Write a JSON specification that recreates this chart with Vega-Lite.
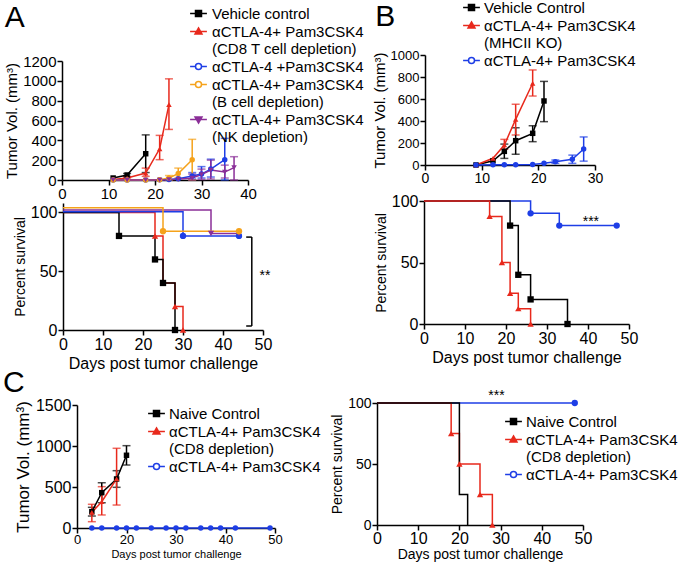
{
  "$schema": "https://vega.github.io/schema/vega-lite/v6.json",
  "width": 680,
  "height": 562,
  "autosize": "none",
  "padding": 0,
  "background": "white",
  "config": {
    "font": "Liberation Sans",
    "view": {"stroke": null},
    "axis": {"grid": false, "domainColor": "black", "domainWidth": 1.5, "tickColor": "black", "tickWidth": 1.5, "tickSize": 5, "labelColor": "black", "titleColor": "black", "titleFontWeight": "normal", "labelPadding": 1, "titlePadding": 3, "labelFlush": false, "labelOverlap": false},
    "legend": {"labelColor": "black", "labelFont": "Liberation Sans", "symbolOpacity": 1}
  },
  "datasets": {
    "aTop": [
      {"group": "Vehicle control", "day": 11, "vol": 20},
      {"group": "Vehicle control", "day": 14, "vol": 50, "lo": 35, "hi": 65},
      {"group": "Vehicle control", "day": 18, "vol": 265, "lo": 75, "hi": 455},
      {"group": "αCTLA-4+ Pam3CSK4 (CD8 T cell depletion)", "day": 11, "vol": 5},
      {"group": "αCTLA-4+ Pam3CSK4 (CD8 T cell depletion)", "day": 14, "vol": 20, "lo": 10, "hi": 30},
      {"group": "αCTLA-4+ Pam3CSK4 (CD8 T cell depletion)", "day": 18, "vol": 70, "lo": 37, "hi": 120},
      {"group": "αCTLA-4+ Pam3CSK4 (CD8 T cell depletion)", "day": 21, "vol": 315, "lo": 205, "hi": 450},
      {"group": "αCTLA-4+ Pam3CSK4 (CD8 T cell depletion)", "day": 23, "vol": 760, "lo": 510, "hi": 1020},
      {"group": "αCTLA-4 +Pam3CSK4", "day": 11, "vol": 0},
      {"group": "αCTLA-4 +Pam3CSK4", "day": 14, "vol": 0},
      {"group": "αCTLA-4 +Pam3CSK4", "day": 18, "vol": 0},
      {"group": "αCTLA-4 +Pam3CSK4", "day": 21, "vol": 2},
      {"group": "αCTLA-4 +Pam3CSK4", "day": 23, "vol": 5},
      {"group": "αCTLA-4 +Pam3CSK4", "day": 25, "vol": 12},
      {"group": "αCTLA-4 +Pam3CSK4", "day": 28, "vol": 40, "lo": 10, "hi": 75},
      {"group": "αCTLA-4 +Pam3CSK4", "day": 30, "vol": 60, "lo": 20, "hi": 135},
      {"group": "αCTLA-4 +Pam3CSK4", "day": 32, "vol": 110, "lo": 30, "hi": 210},
      {"group": "αCTLA-4 +Pam3CSK4", "day": 35, "vol": 205, "lo": 0, "hi": 420},
      {"group": "αCTLA-4+ Pam3CSK4 (B cell depletion)", "day": 11, "vol": 0},
      {"group": "αCTLA-4+ Pam3CSK4 (B cell depletion)", "day": 14, "vol": 0},
      {"group": "αCTLA-4+ Pam3CSK4 (B cell depletion)", "day": 18, "vol": 0},
      {"group": "αCTLA-4+ Pam3CSK4 (B cell depletion)", "day": 21, "vol": 3},
      {"group": "αCTLA-4+ Pam3CSK4 (B cell depletion)", "day": 23, "vol": 20, "lo": 0, "hi": 45},
      {"group": "αCTLA-4+ Pam3CSK4 (B cell depletion)", "day": 25, "vol": 65, "lo": 20, "hi": 120},
      {"group": "αCTLA-4+ Pam3CSK4 (B cell depletion)", "day": 28, "vol": 205, "lo": 0, "hi": 410},
      {"group": "αCTLA-4+ Pam3CSK4 (NK depletion)", "day": 11, "vol": 0},
      {"group": "αCTLA-4+ Pam3CSK4 (NK depletion)", "day": 14, "vol": 0},
      {"group": "αCTLA-4+ Pam3CSK4 (NK depletion)", "day": 18, "vol": 0},
      {"group": "αCTLA-4+ Pam3CSK4 (NK depletion)", "day": 21, "vol": 0},
      {"group": "αCTLA-4+ Pam3CSK4 (NK depletion)", "day": 23, "vol": 3},
      {"group": "αCTLA-4+ Pam3CSK4 (NK depletion)", "day": 25, "vol": 8},
      {"group": "αCTLA-4+ Pam3CSK4 (NK depletion)", "day": 28, "vol": 20, "lo": 0, "hi": 60},
      {"group": "αCTLA-4+ Pam3CSK4 (NK depletion)", "day": 30, "vol": 55, "lo": 5, "hi": 110},
      {"group": "αCTLA-4+ Pam3CSK4 (NK depletion)", "day": 32, "vol": 100, "lo": 10, "hi": 200},
      {"group": "αCTLA-4+ Pam3CSK4 (NK depletion)", "day": 35, "vol": 80, "lo": 20, "hi": 150},
      {"group": "αCTLA-4+ Pam3CSK4 (NK depletion)", "day": 37, "vol": 125, "lo": 0, "hi": 235}
    ],
    "aSurv": [
      {"group": "αCTLA-4+ Pam3CSK4 (CD8 T cell depletion)", "day": 0, "pct": 100, "marker": false},
      {"group": "αCTLA-4+ Pam3CSK4 (CD8 T cell depletion)", "day": 23, "pct": 80, "marker": true},
      {"group": "αCTLA-4+ Pam3CSK4 (CD8 T cell depletion)", "day": 25, "pct": 40, "marker": false},
      {"group": "αCTLA-4+ Pam3CSK4 (CD8 T cell depletion)", "day": 28, "pct": 20, "marker": true},
      {"group": "αCTLA-4+ Pam3CSK4 (CD8 T cell depletion)", "day": 30, "pct": 0, "marker": true},
      {"group": "Vehicle control", "day": 0, "pct": 100, "marker": false},
      {"group": "Vehicle control", "day": 14, "pct": 80, "marker": true},
      {"group": "Vehicle control", "day": 23, "pct": 60, "marker": true},
      {"group": "Vehicle control", "day": 25, "pct": 40, "marker": true},
      {"group": "Vehicle control", "day": 28, "pct": 0, "marker": true},
      {"group": "αCTLA-4 +Pam3CSK4", "day": 0, "pct": 100.5, "marker": false},
      {"group": "αCTLA-4 +Pam3CSK4", "day": 30, "pct": 80, "marker": true},
      {"group": "αCTLA-4 +Pam3CSK4", "day": 44, "pct": 80, "marker": true},
      {"group": "αCTLA-4+ Pam3CSK4 (NK depletion)", "day": 0, "pct": 102, "marker": false},
      {"group": "αCTLA-4+ Pam3CSK4 (NK depletion)", "day": 37, "pct": 82, "marker": true},
      {"group": "αCTLA-4+ Pam3CSK4 (NK depletion)", "day": 44, "pct": 82, "marker": true},
      {"group": "αCTLA-4+ Pam3CSK4 (B cell depletion)", "day": 0, "pct": 104, "marker": false},
      {"group": "αCTLA-4+ Pam3CSK4 (B cell depletion)", "day": 25, "pct": 84, "marker": true},
      {"group": "αCTLA-4+ Pam3CSK4 (B cell depletion)", "day": 44, "pct": 84, "marker": true}
    ],
    "bTop": [
      {"group": "Vehicle Control", "day": 9, "vol": 0},
      {"group": "Vehicle Control", "day": 12, "vol": 39},
      {"group": "Vehicle Control", "day": 14, "vol": 124, "lo": 60, "hi": 190},
      {"group": "Vehicle Control", "day": 16, "vol": 221, "lo": 97, "hi": 339},
      {"group": "Vehicle Control", "day": 19, "vol": 288, "lo": 212, "hi": 357},
      {"group": "Vehicle Control", "day": 21, "vol": 582, "lo": 394, "hi": 760},
      {"group": "αCTLA-4+ Pam3CSK4 (MHCII KO)", "day": 9, "vol": 0},
      {"group": "αCTLA-4+ Pam3CSK4 (MHCII KO)", "day": 12, "vol": 61},
      {"group": "αCTLA-4+ Pam3CSK4 (MHCII KO)", "day": 14, "vol": 182, "lo": 143, "hi": 233},
      {"group": "αCTLA-4+ Pam3CSK4 (MHCII KO)", "day": 16, "vol": 415, "lo": 272, "hi": 552},
      {"group": "αCTLA-4+ Pam3CSK4 (MHCII KO)", "day": 19, "vol": 743, "lo": 627, "hi": 864},
      {"group": "αCTLA-4+ Pam3CSK4", "day": 9, "vol": 0},
      {"group": "αCTLA-4+ Pam3CSK4", "day": 12, "vol": 2},
      {"group": "αCTLA-4+ Pam3CSK4", "day": 14, "vol": 2},
      {"group": "αCTLA-4+ Pam3CSK4", "day": 16, "vol": 3},
      {"group": "αCTLA-4+ Pam3CSK4", "day": 19, "vol": 5},
      {"group": "αCTLA-4+ Pam3CSK4", "day": 21, "vol": 15},
      {"group": "αCTLA-4+ Pam3CSK4", "day": 23, "vol": 30, "lo": 15, "hi": 45},
      {"group": "αCTLA-4+ Pam3CSK4", "day": 26, "vol": 52, "lo": 15, "hi": 90},
      {"group": "αCTLA-4+ Pam3CSK4", "day": 28, "vol": 145, "lo": 35, "hi": 255}
    ],
    "bSurv": [
      {"group": "αCTLA-4+ Pam3CSK4", "day": 0, "pct": 100, "marker": false},
      {"group": "αCTLA-4+ Pam3CSK4", "day": 26, "pct": 90, "marker": true},
      {"group": "αCTLA-4+ Pam3CSK4", "day": 33, "pct": 80, "marker": true},
      {"group": "αCTLA-4+ Pam3CSK4", "day": 47, "pct": 80, "marker": true},
      {"group": "Vehicle Control", "day": 0, "pct": 100, "marker": false},
      {"group": "Vehicle Control", "day": 21, "pct": 80, "marker": true},
      {"group": "Vehicle Control", "day": 23, "pct": 40, "marker": true},
      {"group": "Vehicle Control", "day": 26, "pct": 20, "marker": true},
      {"group": "Vehicle Control", "day": 35, "pct": 0, "marker": true},
      {"group": "αCTLA-4+ Pam3CSK4 (MHCII KO)", "day": 0, "pct": 100, "marker": false},
      {"group": "αCTLA-4+ Pam3CSK4 (MHCII KO)", "day": 16, "pct": 87.5, "marker": true},
      {"group": "αCTLA-4+ Pam3CSK4 (MHCII KO)", "day": 19, "pct": 50, "marker": true},
      {"group": "αCTLA-4+ Pam3CSK4 (MHCII KO)", "day": 21, "pct": 25, "marker": true},
      {"group": "αCTLA-4+ Pam3CSK4 (MHCII KO)", "day": 23, "pct": 12.5, "marker": true},
      {"group": "αCTLA-4+ Pam3CSK4 (MHCII KO)", "day": 26, "pct": 0, "marker": true}
    ],
    "cTop": [
      {"group": "Naive Control", "day": 13, "vol": 199, "lo": 146, "hi": 252},
      {"group": "Naive Control", "day": 15, "vol": 431, "lo": 308, "hi": 552},
      {"group": "Naive Control", "day": 18, "vol": 598, "lo": 496, "hi": 699},
      {"group": "Naive Control", "day": 20, "vol": 887, "lo": 768, "hi": 1004},
      {"group": "αCTLA-4+ Pam3CSK4 (CD8 depletion)", "day": 13, "vol": 190, "lo": 77, "hi": 289},
      {"group": "αCTLA-4+ Pam3CSK4 (CD8 depletion)", "day": 15, "vol": 321, "lo": 159, "hi": 504},
      {"group": "αCTLA-4+ Pam3CSK4 (CD8 depletion)", "day": 18, "vol": 598, "lo": 280, "hi": 972},
      {"group": "αCTLA-4+ Pam3CSK4", "day": 13, "vol": 0},
      {"group": "αCTLA-4+ Pam3CSK4", "day": 15, "vol": 0},
      {"group": "αCTLA-4+ Pam3CSK4", "day": 18, "vol": 0},
      {"group": "αCTLA-4+ Pam3CSK4", "day": 20, "vol": 0},
      {"group": "αCTLA-4+ Pam3CSK4", "day": 22, "vol": 0},
      {"group": "αCTLA-4+ Pam3CSK4", "day": 25, "vol": 0},
      {"group": "αCTLA-4+ Pam3CSK4", "day": 28, "vol": 0},
      {"group": "αCTLA-4+ Pam3CSK4", "day": 30, "vol": 0},
      {"group": "αCTLA-4+ Pam3CSK4", "day": 32, "vol": 0},
      {"group": "αCTLA-4+ Pam3CSK4", "day": 35, "vol": 0},
      {"group": "αCTLA-4+ Pam3CSK4", "day": 37, "vol": 0},
      {"group": "αCTLA-4+ Pam3CSK4", "day": 39, "vol": 0},
      {"group": "αCTLA-4+ Pam3CSK4", "day": 42, "vol": 0},
      {"group": "αCTLA-4+ Pam3CSK4", "day": 49, "vol": 0}
    ],
    "cSurv": [
      {"group": "αCTLA-4+ Pam3CSK4", "day": 0, "pct": 100, "marker": false},
      {"group": "αCTLA-4+ Pam3CSK4", "day": 48, "pct": 100, "marker": true},
      {"group": "αCTLA-4+ Pam3CSK4 (CD8 depletion)", "day": 0, "pct": 100, "marker": false},
      {"group": "αCTLA-4+ Pam3CSK4 (CD8 depletion)", "day": 18, "pct": 75, "marker": true},
      {"group": "αCTLA-4+ Pam3CSK4 (CD8 depletion)", "day": 20, "pct": 50, "marker": true},
      {"group": "αCTLA-4+ Pam3CSK4 (CD8 depletion)", "day": 25, "pct": 25, "marker": true},
      {"group": "αCTLA-4+ Pam3CSK4 (CD8 depletion)", "day": 28, "pct": 0, "marker": true},
      {"group": "Naive Control", "day": 0, "pct": 100, "marker": false},
      {"group": "Naive Control", "day": 20, "pct": 25, "marker": false},
      {"group": "Naive Control", "day": 22, "pct": 0, "marker": false}
    ]
  },
  "resolve": {
    "scale": {"x": "independent", "y": "independent", "color": "independent", "shape": "independent", "fill": "independent", "stroke": "independent"},
    "axis": {"x": "independent", "y": "independent"},
    "legend": {"color": "independent", "shape": "independent", "fill": "independent", "stroke": "independent"}
  },
  "layer": [
    {
      "layer": [
        {
          "data": {"name": "aTop"},
          "transform": [{"filter": "isValid(datum.hi)"}],
          "mark": {"type": "errorbar", "ticks": true, "size": 8, "thickness": 1.5},
          "encoding": {
            "x": {"field": "day", "type": "quantitative", "scale": {"domain": [0, 40], "range": [62, 248], "nice": false}, "axis": {"orient": "bottom", "offset": -382, "values": [0, 10, 20, 30, 40], "title": null, "labelFontSize": 15}},
            "y": {"field": "lo", "type": "quantitative", "scale": {"domain": [0, 1200], "range": [180, 61], "nice": false}, "title": "Tumor Vol. (mm³)", "axis": {"orient": "left", "offset": -62, "format": "d", "values": [0, 200, 400, 600, 800, 1000, 1200], "labelFontSize": 15, "titleFontSize": 15}},
            "y2": {"field": "hi"},
            "color": {"field": "group", "type": "nominal", "scale": {"domain": ["Vehicle control", "αCTLA-4+ Pam3CSK4 (CD8 T cell depletion)", "αCTLA-4 +Pam3CSK4", "αCTLA-4+ Pam3CSK4 (B cell depletion)", "αCTLA-4+ Pam3CSK4 (NK depletion)"], "range": ["#000000", "#e8291c", "#1e3ee6", "#f5a21b", "#8b2f98"]}, "legend": null}
          }
        },
        {
          "data": {"name": "aTop"},
          "mark": {"type": "line", "strokeWidth": 1.5},
          "encoding": {
            "x": {"field": "day", "type": "quantitative", "scale": {"domain": [0, 40], "range": [62, 248], "nice": false}, "axis": {"orient": "bottom", "offset": -382, "values": [0, 10, 20, 30, 40], "title": null, "labelFontSize": 15}},
            "y": {"field": "vol", "type": "quantitative", "scale": {"domain": [0, 1200], "range": [180, 61], "nice": false}, "title": "Tumor Vol. (mm³)", "axis": {"orient": "left", "offset": -62, "format": "d", "values": [0, 200, 400, 600, 800, 1000, 1200], "labelFontSize": 15, "titleFontSize": 15}},
            "color": {"field": "group", "type": "nominal", "scale": {"domain": ["Vehicle control", "αCTLA-4+ Pam3CSK4 (CD8 T cell depletion)", "αCTLA-4 +Pam3CSK4", "αCTLA-4+ Pam3CSK4 (B cell depletion)", "αCTLA-4+ Pam3CSK4 (NK depletion)"], "range": ["#000000", "#e8291c", "#1e3ee6", "#f5a21b", "#8b2f98"]}, "legend": null}
          }
        },
        {
          "data": {"name": "aTop"},
          "mark": {"type": "point", "filled": true, "size": 30, "opacity": 1},
          "encoding": {
            "x": {"field": "day", "type": "quantitative", "scale": {"domain": [0, 40], "range": [62, 248], "nice": false}, "axis": {"orient": "bottom", "offset": -382, "values": [0, 10, 20, 30, 40], "title": null, "labelFontSize": 15}},
            "y": {"field": "vol", "type": "quantitative", "scale": {"domain": [0, 1200], "range": [180, 61], "nice": false}, "title": "Tumor Vol. (mm³)", "axis": {"orient": "left", "offset": -62, "format": "d", "values": [0, 200, 400, 600, 800, 1000, 1200], "labelFontSize": 15, "titleFontSize": 15}},
            "color": {"field": "group", "type": "nominal", "scale": {"domain": ["Vehicle control", "αCTLA-4+ Pam3CSK4 (CD8 T cell depletion)", "αCTLA-4 +Pam3CSK4", "αCTLA-4+ Pam3CSK4 (B cell depletion)", "αCTLA-4+ Pam3CSK4 (NK depletion)"], "range": ["#000000", "#e8291c", "#1e3ee6", "#f5a21b", "#8b2f98"]}, "legend": null},
            "shape": {"field": "group", "type": "nominal", "scale": {"domain": ["Vehicle control", "αCTLA-4+ Pam3CSK4 (CD8 T cell depletion)", "αCTLA-4 +Pam3CSK4", "αCTLA-4+ Pam3CSK4 (B cell depletion)", "αCTLA-4+ Pam3CSK4 (NK depletion)"], "range": ["square", "triangle-up", "circle", "circle", "triangle-down"]}, "legend": null}
          }
        },
        {
          "data": {"values": [{}]},
          "mark": {"type": "text", "fontSize": 30, "color": "black", "align": "left", "baseline": "alphabetic"},
          "encoding": {
            "x": {"datum": -12.3, "type": "quantitative"},
            "y": {"datum": 1542, "type": "quantitative"},
            "text": {"value": "A"}
          }
        }
      ]
    },
    {
      "layer": [
        {
          "data": {"name": "aSurv"},
          "mark": {"type": "line", "interpolate": "step-after", "strokeWidth": 1.5},
          "encoding": {
            "x": {"field": "day", "type": "quantitative", "scale": {"domain": [0, 50], "range": [63, 263], "nice": false}, "title": "Days post tumor challenge", "axis": {"orient": "bottom", "offset": -232, "values": [0, 10, 20, 30, 40, 50], "labelFontSize": 16, "titleFontSize": 16}},
            "y": {"field": "pct", "type": "quantitative", "scale": {"domain": [0, 108], "range": [330, 203], "nice": false}, "title": "Percent survival", "axis": {"orient": "left", "offset": -63, "values": [0, 50, 100], "labelFontSize": 16, "titleFontSize": 14}},
            "color": {"field": "group", "type": "nominal", "scale": {"domain": ["Vehicle control", "αCTLA-4+ Pam3CSK4 (CD8 T cell depletion)", "αCTLA-4 +Pam3CSK4", "αCTLA-4+ Pam3CSK4 (B cell depletion)", "αCTLA-4+ Pam3CSK4 (NK depletion)"], "range": ["#000000", "#e8291c", "#1e3ee6", "#f5a21b", "#8b2f98"]}, "legend": null}
          }
        },
        {
          "data": {"name": "aSurv"},
          "transform": [{"filter": "datum.marker"}],
          "mark": {"type": "point", "filled": true, "size": 40, "opacity": 1},
          "encoding": {
            "x": {"field": "day", "type": "quantitative", "scale": {"domain": [0, 50], "range": [63, 263], "nice": false}, "title": "Days post tumor challenge", "axis": {"orient": "bottom", "offset": -232, "values": [0, 10, 20, 30, 40, 50], "labelFontSize": 16, "titleFontSize": 16}},
            "y": {"field": "pct", "type": "quantitative", "scale": {"domain": [0, 108], "range": [330, 203], "nice": false}, "title": "Percent survival", "axis": {"orient": "left", "offset": -63, "values": [0, 50, 100], "labelFontSize": 16, "titleFontSize": 14}},
            "color": {"field": "group", "type": "nominal", "scale": {"domain": ["Vehicle control", "αCTLA-4+ Pam3CSK4 (CD8 T cell depletion)", "αCTLA-4 +Pam3CSK4", "αCTLA-4+ Pam3CSK4 (B cell depletion)", "αCTLA-4+ Pam3CSK4 (NK depletion)"], "range": ["#000000", "#e8291c", "#1e3ee6", "#f5a21b", "#8b2f98"]}, "legend": null},
            "shape": {"field": "group", "type": "nominal", "scale": {"domain": ["Vehicle control", "αCTLA-4+ Pam3CSK4 (CD8 T cell depletion)", "αCTLA-4 +Pam3CSK4", "αCTLA-4+ Pam3CSK4 (B cell depletion)", "αCTLA-4+ Pam3CSK4 (NK depletion)"], "range": ["square", "triangle-up", "circle", "circle", "triangle-down"]}, "legend": null}
          }
        },
        {
          "data": {"values": [{}]},
          "mark": {"type": "rule", "strokeWidth": 1.5, "color": "black"},
          "encoding": {"x": {"datum": 47.2, "type": "quantitative"}, "y": {"datum": 3.4, "type": "quantitative"}, "y2": {"datum": 79}}
        },
        {
          "data": {"values": [{}]},
          "mark": {"type": "rule", "strokeWidth": 1.5, "color": "black"},
          "encoding": {"x": {"datum": 45.8, "type": "quantitative"}, "x2": {"datum": 47.2}, "y": {"datum": 79, "type": "quantitative"}}
        },
        {
          "data": {"values": [{}]},
          "mark": {"type": "rule", "strokeWidth": 1.5, "color": "black"},
          "encoding": {"x": {"datum": 45.8, "type": "quantitative"}, "x2": {"datum": 47.2}, "y": {"datum": 3.4, "type": "quantitative"}}
        },
        {
          "data": {"values": [{}]},
          "mark": {"type": "text", "fontSize": 14, "color": "black", "baseline": "middle"},
          "encoding": {"x": {"datum": 50.5, "type": "quantitative"}, "y": {"datum": 46, "type": "quantitative"}, "text": {"value": "**"}}
        }
      ]
    },
    {
      "layer": [
        {
          "data": {"name": "bTop"},
          "transform": [{"filter": "isValid(datum.hi)"}],
          "mark": {"type": "errorbar", "ticks": true, "size": 8, "thickness": 1.5},
          "encoding": {
            "x": {"field": "day", "type": "quantitative", "scale": {"domain": [0, 30], "range": [425, 595], "nice": false}, "axis": {"orient": "bottom", "offset": -397, "values": [0, 10, 20, 30], "title": null, "labelFontSize": 14}},
            "y": {"field": "lo", "type": "quantitative", "scale": {"domain": [0, 1000], "range": [165, 55], "nice": false}, "title": "Tumor Vol. (mm³)", "axis": {"orient": "left", "offset": -425, "format": "d", "values": [0, 200, 400, 600, 800, 1000], "labelFontSize": 13, "titleFontSize": 15}},
            "y2": {"field": "hi"},
            "color": {"field": "group", "type": "nominal", "scale": {"domain": ["Vehicle Control", "αCTLA-4+ Pam3CSK4 (MHCII KO)", "αCTLA-4+ Pam3CSK4"], "range": ["#000000", "#e8291c", "#1e3ee6"]}, "legend": null}
          }
        },
        {
          "data": {"name": "bTop"},
          "mark": {"type": "line", "strokeWidth": 1.5},
          "encoding": {
            "x": {"field": "day", "type": "quantitative", "scale": {"domain": [0, 30], "range": [425, 595], "nice": false}, "axis": {"orient": "bottom", "offset": -397, "values": [0, 10, 20, 30], "title": null, "labelFontSize": 14}},
            "y": {"field": "vol", "type": "quantitative", "scale": {"domain": [0, 1000], "range": [165, 55], "nice": false}, "title": "Tumor Vol. (mm³)", "axis": {"orient": "left", "offset": -425, "format": "d", "values": [0, 200, 400, 600, 800, 1000], "labelFontSize": 13, "titleFontSize": 15}},
            "color": {"field": "group", "type": "nominal", "scale": {"domain": ["Vehicle Control", "αCTLA-4+ Pam3CSK4 (MHCII KO)", "αCTLA-4+ Pam3CSK4"], "range": ["#000000", "#e8291c", "#1e3ee6"]}, "legend": null}
          }
        },
        {
          "data": {"name": "bTop"},
          "mark": {"type": "point", "filled": true, "size": 30, "opacity": 1},
          "encoding": {
            "x": {"field": "day", "type": "quantitative", "scale": {"domain": [0, 30], "range": [425, 595], "nice": false}, "axis": {"orient": "bottom", "offset": -397, "values": [0, 10, 20, 30], "title": null, "labelFontSize": 14}},
            "y": {"field": "vol", "type": "quantitative", "scale": {"domain": [0, 1000], "range": [165, 55], "nice": false}, "title": "Tumor Vol. (mm³)", "axis": {"orient": "left", "offset": -425, "format": "d", "values": [0, 200, 400, 600, 800, 1000], "labelFontSize": 13, "titleFontSize": 15}},
            "color": {"field": "group", "type": "nominal", "scale": {"domain": ["Vehicle Control", "αCTLA-4+ Pam3CSK4 (MHCII KO)", "αCTLA-4+ Pam3CSK4"], "range": ["#000000", "#e8291c", "#1e3ee6"]}, "legend": null},
            "shape": {"field": "group", "type": "nominal", "scale": {"domain": ["Vehicle Control", "αCTLA-4+ Pam3CSK4 (MHCII KO)", "αCTLA-4+ Pam3CSK4"], "range": ["square", "triangle-up", "circle"]}, "legend": null}
          }
        },
        {
          "data": {"values": [{}]},
          "mark": {"type": "text", "fontSize": 30, "color": "black", "align": "left", "baseline": "alphabetic"},
          "encoding": {
            "x": {"datum": -8.8, "type": "quantitative"},
            "y": {"datum": 1264, "type": "quantitative"},
            "text": {"value": "B"}
          }
        }
      ]
    },
    {
      "layer": [
        {
          "data": {"name": "bSurv"},
          "mark": {"type": "line", "interpolate": "step-after", "strokeWidth": 1.5},
          "encoding": {
            "x": {"field": "day", "type": "quantitative", "scale": {"domain": [0, 50], "range": [424, 629], "nice": false}, "title": "Days post tumor challenge", "axis": {"orient": "bottom", "offset": -238, "values": [0, 10, 20, 30, 40, 50], "labelFontSize": 16, "titleFontSize": 16}},
            "y": {"field": "pct", "type": "quantitative", "scale": {"domain": [0, 100], "range": [324, 201], "nice": false}, "title": "Percent survival", "axis": {"orient": "left", "offset": -424, "values": [0, 50, 100], "labelFontSize": 16, "titleFontSize": 14}},
            "color": {"field": "group", "type": "nominal", "scale": {"domain": ["Vehicle Control", "αCTLA-4+ Pam3CSK4 (MHCII KO)", "αCTLA-4+ Pam3CSK4"], "range": ["#000000", "#e8291c", "#1e3ee6"]}, "legend": null}
          }
        },
        {
          "data": {"name": "bSurv"},
          "transform": [{"filter": "datum.marker"}],
          "mark": {"type": "point", "filled": true, "size": 40, "opacity": 1},
          "encoding": {
            "x": {"field": "day", "type": "quantitative", "scale": {"domain": [0, 50], "range": [424, 629], "nice": false}, "title": "Days post tumor challenge", "axis": {"orient": "bottom", "offset": -238, "values": [0, 10, 20, 30, 40, 50], "labelFontSize": 16, "titleFontSize": 16}},
            "y": {"field": "pct", "type": "quantitative", "scale": {"domain": [0, 100], "range": [324, 201], "nice": false}, "title": "Percent survival", "axis": {"orient": "left", "offset": -424, "values": [0, 50, 100], "labelFontSize": 16, "titleFontSize": 14}},
            "color": {"field": "group", "type": "nominal", "scale": {"domain": ["Vehicle Control", "αCTLA-4+ Pam3CSK4 (MHCII KO)", "αCTLA-4+ Pam3CSK4"], "range": ["#000000", "#e8291c", "#1e3ee6"]}, "legend": null},
            "shape": {"field": "group", "type": "nominal", "scale": {"domain": ["Vehicle Control", "αCTLA-4+ Pam3CSK4 (MHCII KO)", "αCTLA-4+ Pam3CSK4"], "range": ["square", "triangle-up", "circle"]}, "legend": null}
          }
        },
        {
          "data": {"values": [{}]},
          "mark": {"type": "text", "fontSize": 14, "color": "black", "baseline": "middle"},
          "encoding": {"x": {"datum": 40.7, "type": "quantitative"}, "y": {"datum": 83, "type": "quantitative"}, "text": {"value": "***"}}
        }
      ]
    },
    {
      "layer": [
        {
          "data": {"name": "cTop"},
          "transform": [{"filter": "isValid(datum.hi)"}],
          "mark": {"type": "errorbar", "ticks": true, "size": 8, "thickness": 1.5},
          "encoding": {
            "x": {"field": "day", "type": "quantitative", "scale": {"domain": [10, 50], "range": [77, 275], "nice": false}, "title": "Days post tumor challenge", "axis": {"orient": "bottom", "offset": -34, "values": [10, 20, 30, 40, 50], "labelExpr": "datum.value == 10 ? '0' : datum.label", "labelFontSize": 13, "titleFontSize": 11, "labelPadding": 0, "titlePadding": 2}},
            "y": {"field": "lo", "type": "quantitative", "scale": {"domain": [0, 1500], "range": [528, 405], "nice": false}, "title": "Tumor Vol. (mm³)", "axis": {"orient": "left", "offset": -77, "format": "d", "values": [0, 500, 1000, 1500], "labelFontSize": 16, "titleFontSize": 17}},
            "y2": {"field": "hi"},
            "color": {"field": "group", "type": "nominal", "scale": {"domain": ["Naive Control", "αCTLA-4+ Pam3CSK4 (CD8 depletion)", "αCTLA-4+ Pam3CSK4"], "range": ["#000000", "#e8291c", "#1e3ee6"]}, "legend": null}
          }
        },
        {
          "data": {"name": "cTop"},
          "mark": {"type": "line", "strokeWidth": 1.5},
          "encoding": {
            "x": {"field": "day", "type": "quantitative", "scale": {"domain": [10, 50], "range": [77, 275], "nice": false}, "title": "Days post tumor challenge", "axis": {"orient": "bottom", "offset": -34, "values": [10, 20, 30, 40, 50], "labelExpr": "datum.value == 10 ? '0' : datum.label", "labelFontSize": 13, "titleFontSize": 11, "labelPadding": 0, "titlePadding": 2}},
            "y": {"field": "vol", "type": "quantitative", "scale": {"domain": [0, 1500], "range": [528, 405], "nice": false}, "title": "Tumor Vol. (mm³)", "axis": {"orient": "left", "offset": -77, "format": "d", "values": [0, 500, 1000, 1500], "labelFontSize": 16, "titleFontSize": 17}},
            "color": {"field": "group", "type": "nominal", "scale": {"domain": ["Naive Control", "αCTLA-4+ Pam3CSK4 (CD8 depletion)", "αCTLA-4+ Pam3CSK4"], "range": ["#000000", "#e8291c", "#1e3ee6"]}, "legend": null}
          }
        },
        {
          "data": {"name": "cTop"},
          "mark": {"type": "point", "filled": true, "size": 30, "opacity": 1},
          "encoding": {
            "x": {"field": "day", "type": "quantitative", "scale": {"domain": [10, 50], "range": [77, 275], "nice": false}, "title": "Days post tumor challenge", "axis": {"orient": "bottom", "offset": -34, "values": [10, 20, 30, 40, 50], "labelExpr": "datum.value == 10 ? '0' : datum.label", "labelFontSize": 13, "titleFontSize": 11, "labelPadding": 0, "titlePadding": 2}},
            "y": {"field": "vol", "type": "quantitative", "scale": {"domain": [0, 1500], "range": [528, 405], "nice": false}, "title": "Tumor Vol. (mm³)", "axis": {"orient": "left", "offset": -77, "format": "d", "values": [0, 500, 1000, 1500], "labelFontSize": 16, "titleFontSize": 17}},
            "color": {"field": "group", "type": "nominal", "scale": {"domain": ["Naive Control", "αCTLA-4+ Pam3CSK4 (CD8 depletion)", "αCTLA-4+ Pam3CSK4"], "range": ["#000000", "#e8291c", "#1e3ee6"]}, "legend": null},
            "shape": {"field": "group", "type": "nominal", "scale": {"domain": ["Naive Control", "αCTLA-4+ Pam3CSK4 (CD8 depletion)", "αCTLA-4+ Pam3CSK4"], "range": ["square", "triangle-up", "circle"]}, "legend": null}
          }
        },
        {
          "data": {"values": [{}]},
          "mark": {"type": "text", "fontSize": 30, "color": "black", "align": "left", "baseline": "alphabetic"},
          "encoding": {
            "x": {"datum": -4.95, "type": "quantitative"},
            "y": {"datum": 1659, "type": "quantitative"},
            "text": {"value": "C"}
          }
        }
      ]
    },
    {
      "layer": [
        {
          "data": {"name": "cSurv"},
          "mark": {"type": "line", "interpolate": "step-after", "strokeWidth": 1.5},
          "encoding": {
            "x": {"field": "day", "type": "quantitative", "scale": {"domain": [0, 50], "range": [377, 583], "nice": false}, "title": "Days post tumor challenge", "axis": {"orient": "bottom", "offset": -37, "values": [0, 10, 20, 30, 40, 50], "labelFontSize": 16, "titleFontSize": 14, "labelPadding": 0, "titlePadding": 1}},
            "y": {"field": "pct", "type": "quantitative", "scale": {"domain": [0, 100], "range": [525, 403], "nice": false}, "title": "Percent survival", "axis": {"orient": "left", "offset": -377, "values": [0, 50, 100], "labelFontSize": 14, "titleFontSize": 14}},
            "color": {"field": "group", "type": "nominal", "scale": {"domain": ["Naive Control", "αCTLA-4+ Pam3CSK4 (CD8 depletion)", "αCTLA-4+ Pam3CSK4"], "range": ["#000000", "#e8291c", "#1e3ee6"]}, "legend": null}
          }
        },
        {
          "data": {"name": "cSurv"},
          "transform": [{"filter": "datum.marker"}],
          "mark": {"type": "point", "filled": true, "size": 40, "opacity": 1},
          "encoding": {
            "x": {"field": "day", "type": "quantitative", "scale": {"domain": [0, 50], "range": [377, 583], "nice": false}, "title": "Days post tumor challenge", "axis": {"orient": "bottom", "offset": -37, "values": [0, 10, 20, 30, 40, 50], "labelFontSize": 16, "titleFontSize": 14, "labelPadding": 0, "titlePadding": 1}},
            "y": {"field": "pct", "type": "quantitative", "scale": {"domain": [0, 100], "range": [525, 403], "nice": false}, "title": "Percent survival", "axis": {"orient": "left", "offset": -377, "values": [0, 50, 100], "labelFontSize": 14, "titleFontSize": 14}},
            "color": {"field": "group", "type": "nominal", "scale": {"domain": ["Naive Control", "αCTLA-4+ Pam3CSK4 (CD8 depletion)", "αCTLA-4+ Pam3CSK4"], "range": ["#000000", "#e8291c", "#1e3ee6"]}, "legend": null},
            "shape": {"field": "group", "type": "nominal", "scale": {"domain": ["Naive Control", "αCTLA-4+ Pam3CSK4 (CD8 depletion)", "αCTLA-4+ Pam3CSK4"], "range": ["square", "triangle-up", "circle"]}, "legend": null}
          }
        },
        {
          "data": {"values": [{}]},
          "mark": {"type": "text", "fontSize": 14, "color": "black", "baseline": "middle"},
          "encoding": {"x": {"datum": 29, "type": "quantitative"}, "y": {"datum": 106, "type": "quantitative"}, "text": {"value": "***"}}
        }
      ]
    },
    {
      "data": {"values": []},
      "mark": {"type": "point", "opacity": 1},
      "encoding": {
        "fill": {"field": "group", "type": "nominal", "scale": {"domain": ["Vehicle control", "αCTLA-4+ Pam3CSK4 (CD8 T cell depletion)", "αCTLA-4 +Pam3CSK4", "αCTLA-4+ Pam3CSK4 (B cell depletion)", "αCTLA-4+ Pam3CSK4 (NK depletion)"], "range": ["#000000", "#e8291c", "#ffffff", "#ffffff", "#8b2f98"]},
          "legend": {"orient": "none", "legendX": 191, "legendY": 6, "title": null, "labelFontSize": 15, "labelLimit": 400, "symbolSize": 144, "symbolStrokeWidth": 1.5, "symbolOpacity": 1, "labelOffset": 6, "rowPadding": 2, "labelBaseline": "middle", "labelExpr": "split(replace(datum.label, ' (', '|('), '|')"}},
        "stroke": {"field": "group", "type": "nominal", "scale": {"domain": ["Vehicle control", "αCTLA-4+ Pam3CSK4 (CD8 T cell depletion)", "αCTLA-4 +Pam3CSK4", "αCTLA-4+ Pam3CSK4 (B cell depletion)", "αCTLA-4+ Pam3CSK4 (NK depletion)"], "range": ["#000000", "#e8291c", "#1e3ee6", "#f5a21b", "#8b2f98"]},
          "legend": {"orient": "none", "legendX": 191, "legendY": 6, "title": null, "labelFontSize": 15, "labelLimit": 400, "symbolSize": 144, "symbolStrokeWidth": 1.5, "symbolOpacity": 1, "labelOffset": 6, "rowPadding": 2, "labelBaseline": "middle", "labelExpr": "split(replace(datum.label, ' (', '|('), '|')"}},
        "shape": {"field": "group", "type": "nominal", "scale": {"domain": ["Vehicle control", "αCTLA-4+ Pam3CSK4 (CD8 T cell depletion)", "αCTLA-4 +Pam3CSK4", "αCTLA-4+ Pam3CSK4 (B cell depletion)", "αCTLA-4+ Pam3CSK4 (NK depletion)"], "range": ["M-1.4,0H1.4M-0.5,-0.5H0.5V0.5H-0.5Z", "M-1.4,0H1.4M0,-0.6L0.58,0.42H-0.58Z", "M-1.4,0H-0.5M0.5,0H1.4M-0.5,0A0.5,0.5,0,1,0,0.5,0A0.5,0.5,0,1,0,-0.5,0Z", "M-1.4,0H-0.5M0.5,0H1.4M-0.5,0A0.5,0.5,0,1,0,0.5,0A0.5,0.5,0,1,0,-0.5,0Z", "M-1.4,0H1.4M0,0.6L0.58,-0.42H-0.58Z"]},
          "legend": {"orient": "none", "legendX": 191, "legendY": 6, "title": null, "labelFontSize": 15, "labelLimit": 400, "symbolSize": 144, "symbolStrokeWidth": 1.5, "symbolOpacity": 1, "labelOffset": 6, "rowPadding": 2, "labelBaseline": "middle", "labelExpr": "split(replace(datum.label, ' (', '|('), '|')"}}
      }
    },
    {
      "data": {"values": []},
      "mark": {"type": "point", "opacity": 1},
      "encoding": {
        "fill": {"field": "group", "type": "nominal", "scale": {"domain": ["Vehicle Control", "αCTLA-4+ Pam3CSK4 (MHCII KO)", "αCTLA-4+ Pam3CSK4"], "range": ["#000000", "#e8291c", "#ffffff"]},
          "legend": {"orient": "none", "legendX": 464, "legendY": 0, "title": null, "labelFontSize": 15, "labelLimit": 400, "symbolSize": 144, "symbolStrokeWidth": 1.5, "symbolOpacity": 1, "labelOffset": 5, "rowPadding": 2, "labelBaseline": "middle", "labelExpr": "split(replace(datum.label, ' (', '|\u00a0('), '|')"}},
        "stroke": {"field": "group", "type": "nominal", "scale": {"domain": ["Vehicle Control", "αCTLA-4+ Pam3CSK4 (MHCII KO)", "αCTLA-4+ Pam3CSK4"], "range": ["#000000", "#e8291c", "#1e3ee6"]},
          "legend": {"orient": "none", "legendX": 464, "legendY": 0, "title": null, "labelFontSize": 15, "labelLimit": 400, "symbolSize": 144, "symbolStrokeWidth": 1.5, "symbolOpacity": 1, "labelOffset": 5, "rowPadding": 2, "labelBaseline": "middle", "labelExpr": "split(replace(datum.label, ' (', '|\u00a0('), '|')"}},
        "shape": {"field": "group", "type": "nominal", "scale": {"domain": ["Vehicle Control", "αCTLA-4+ Pam3CSK4 (MHCII KO)", "αCTLA-4+ Pam3CSK4"], "range": ["M-1.4,0H1.4M-0.5,-0.5H0.5V0.5H-0.5Z", "M-1.4,0H1.4M0,-0.6L0.58,0.42H-0.58Z", "M-1.4,0H-0.5M0.5,0H1.4M-0.5,0A0.5,0.5,0,1,0,0.5,0A0.5,0.5,0,1,0,-0.5,0Z"]},
          "legend": {"orient": "none", "legendX": 464, "legendY": 0, "title": null, "labelFontSize": 15, "labelLimit": 400, "symbolSize": 144, "symbolStrokeWidth": 1.5, "symbolOpacity": 1, "labelOffset": 5, "rowPadding": 2, "labelBaseline": "middle", "labelExpr": "split(replace(datum.label, ' (', '|\u00a0('), '|')"}}
      }
    },
    {
      "data": {"values": []},
      "mark": {"type": "point", "opacity": 1},
      "encoding": {
        "fill": {"field": "group", "type": "nominal", "scale": {"domain": ["Naive Control", "αCTLA-4+ Pam3CSK4 (CD8 depletion)", "αCTLA-4+ Pam3CSK4"], "range": ["#000000", "#e8291c", "#ffffff"]},
          "legend": {"orient": "none", "legendX": 149, "legendY": 406, "title": null, "labelFontSize": 15, "labelLimit": 400, "symbolSize": 144, "symbolStrokeWidth": 1.5, "symbolOpacity": 1, "labelOffset": 5, "rowPadding": 2, "labelBaseline": "middle", "labelExpr": "split(replace(datum.label, ' (', '|\u00a0('), '|')"}},
        "stroke": {"field": "group", "type": "nominal", "scale": {"domain": ["Naive Control", "αCTLA-4+ Pam3CSK4 (CD8 depletion)", "αCTLA-4+ Pam3CSK4"], "range": ["#000000", "#e8291c", "#1e3ee6"]},
          "legend": {"orient": "none", "legendX": 149, "legendY": 406, "title": null, "labelFontSize": 15, "labelLimit": 400, "symbolSize": 144, "symbolStrokeWidth": 1.5, "symbolOpacity": 1, "labelOffset": 5, "rowPadding": 2, "labelBaseline": "middle", "labelExpr": "split(replace(datum.label, ' (', '|\u00a0('), '|')"}},
        "shape": {"field": "group", "type": "nominal", "scale": {"domain": ["Naive Control", "αCTLA-4+ Pam3CSK4 (CD8 depletion)", "αCTLA-4+ Pam3CSK4"], "range": ["M-1.4,0H1.4M-0.5,-0.5H0.5V0.5H-0.5Z", "M-1.4,0H1.4M0,-0.6L0.58,0.42H-0.58Z", "M-1.4,0H-0.5M0.5,0H1.4M-0.5,0A0.5,0.5,0,1,0,0.5,0A0.5,0.5,0,1,0,-0.5,0Z"]},
          "legend": {"orient": "none", "legendX": 149, "legendY": 406, "title": null, "labelFontSize": 15, "labelLimit": 400, "symbolSize": 144, "symbolStrokeWidth": 1.5, "symbolOpacity": 1, "labelOffset": 5, "rowPadding": 2, "labelBaseline": "middle", "labelExpr": "split(replace(datum.label, ' (', '|\u00a0('), '|')"}}
      }
    },
    {
      "data": {"values": []},
      "mark": {"type": "point", "opacity": 1},
      "encoding": {
        "fill": {"field": "group", "type": "nominal", "scale": {"domain": ["Naive Control", "αCTLA-4+ Pam3CSK4 (CD8 depletion)", "αCTLA-4+ Pam3CSK4"], "range": ["#000000", "#e8291c", "#ffffff"]},
          "legend": {"orient": "none", "legendX": 506, "legendY": 414, "title": null, "labelFontSize": 15, "labelLimit": 400, "symbolSize": 144, "symbolStrokeWidth": 1.5, "symbolOpacity": 1, "labelOffset": 5, "rowPadding": 2, "labelBaseline": "middle", "labelExpr": "split(replace(datum.label, ' (', '|\u00a0('), '|')"}},
        "stroke": {"field": "group", "type": "nominal", "scale": {"domain": ["Naive Control", "αCTLA-4+ Pam3CSK4 (CD8 depletion)", "αCTLA-4+ Pam3CSK4"], "range": ["#000000", "#e8291c", "#1e3ee6"]},
          "legend": {"orient": "none", "legendX": 506, "legendY": 414, "title": null, "labelFontSize": 15, "labelLimit": 400, "symbolSize": 144, "symbolStrokeWidth": 1.5, "symbolOpacity": 1, "labelOffset": 5, "rowPadding": 2, "labelBaseline": "middle", "labelExpr": "split(replace(datum.label, ' (', '|\u00a0('), '|')"}},
        "shape": {"field": "group", "type": "nominal", "scale": {"domain": ["Naive Control", "αCTLA-4+ Pam3CSK4 (CD8 depletion)", "αCTLA-4+ Pam3CSK4"], "range": ["M-1.4,0H1.4M-0.5,-0.5H0.5V0.5H-0.5Z", "M-1.4,0H1.4M0,-0.6L0.58,0.42H-0.58Z", "M-1.4,0H-0.5M0.5,0H1.4M-0.5,0A0.5,0.5,0,1,0,0.5,0A0.5,0.5,0,1,0,-0.5,0Z"]},
          "legend": {"orient": "none", "legendX": 506, "legendY": 414, "title": null, "labelFontSize": 15, "labelLimit": 400, "symbolSize": 144, "symbolStrokeWidth": 1.5, "symbolOpacity": 1, "labelOffset": 5, "rowPadding": 2, "labelBaseline": "middle", "labelExpr": "split(replace(datum.label, ' (', '|\u00a0('), '|')"}}
      }
    }
  ]
}
